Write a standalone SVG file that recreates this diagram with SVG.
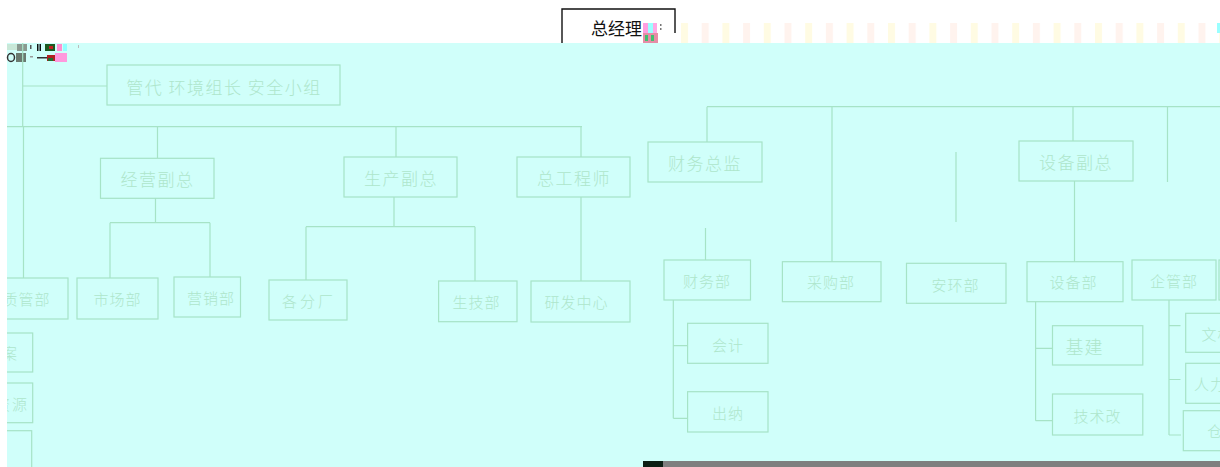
<svg xmlns="http://www.w3.org/2000/svg" width="1220" height="467" viewBox="0 0 1220 467">
<defs>
<style>
.bx{fill:none;stroke:#a6e3c6;stroke-width:1.2}
.ln{fill:none;stroke:#a6e3c6;stroke-width:1.2}
.t{font-family:"Noto Sans CJK SC","Noto Sans",sans-serif;font-weight:300;fill:#aee6cb;font-size:15px;letter-spacing:1px;text-anchor:middle;dominant-baseline:central}
.tl{font-size:17px;letter-spacing:1.5px}
.ts{text-anchor:start}
</style>
<clipPath id="panel"><rect x="7" y="43" width="1213" height="424"/></clipPath>
<pattern id="stripes" x="681" y="0" width="41.4" height="467" patternUnits="userSpaceOnUse">
<rect x="0" y="0" width="7" height="467" fill="#fffbe3"/>
<rect x="20.7" y="0" width="7" height="467" fill="#fff3ee"/>
</pattern>
</defs>
<rect width="1220" height="467" fill="#ffffff"/>
<g id="gm">
<path d="M562 43 V9 H675 V33" fill="none" stroke="#111" stroke-width="1.4"/>
<text x="591" y="27" font-family="Noto Sans CJK SC, sans-serif" font-size="17" fill="#111" dominant-baseline="central">总经理</text>
</g>
<rect x="681" y="23" width="539" height="20" fill="url(#stripes)"/>
<g id="glitch-top">
<rect x="643" y="23" width="5" height="10" fill="#ff9ee0"/>
<rect x="648" y="23" width="5" height="10" fill="#9affff"/>
<rect x="653" y="23" width="4" height="10" fill="#ffa8e4"/>
<rect x="643" y="33" width="15" height="10" fill="#e07090" opacity="0.8"/>
<rect x="645" y="35" width="3" height="6" fill="#40c070"/>
<rect x="651" y="35" width="3" height="6" fill="#40c070"/>
<rect x="660" y="24" width="1.5" height="2" fill="#777"/>
<rect x="660" y="28" width="1.5" height="2" fill="#777"/>
<rect x="1217" y="23" width="3" height="10" fill="#9affff"/>
</g>
<rect x="7" y="43" width="1213" height="424" fill="#d0fffa"/>
<g id="glitch-left">
<rect x="7" y="44" width="10" height="6" fill="#c8e8d8"/>
<rect x="17" y="44" width="10" height="7" fill="#8a9a90"/>
<rect x="30" y="45" width="1.5" height="4" fill="#555"/>
<rect x="37" y="44" width="1.5" height="7" fill="#111"/>
<rect x="39.5" y="44" width="1.5" height="7" fill="#111"/>
<rect x="45" y="44" width="10" height="7" fill="#1a5a20"/>
<rect x="49" y="46" width="4" height="3" fill="#c02020"/>
<rect x="57" y="44" width="5" height="7" fill="#ff90d0"/>
<rect x="63" y="44" width="4" height="7" fill="#90ffff"/>
<rect x="78" y="45" width="1" height="3" fill="#bbb"/>
<ellipse cx="11" cy="57.5" rx="3.5" ry="4" fill="none" stroke="#333" stroke-width="1.5"/>
<rect x="16" y="53" width="10" height="9" fill="#6a7a70"/>
<rect x="30" y="56" width="3" height="1.5" fill="#999"/>
<rect x="37" y="57" width="10" height="1.5" fill="#333"/>
<rect x="47" y="55" width="8" height="6" fill="#b02020"/>
<rect x="48" y="58" width="5" height="3" fill="#207030"/>
<rect x="55" y="53" width="12" height="9" fill="#ff99dd"/>
</g>
<g clip-path="url(#panel)">
<g id="connectors" class="ln">
<path d="M22.7 43 V126.7 M22.7 86 H107"/>
<path d="M7 126.7 H582"/>
<path d="M23.5 126.7 V278 M157.5 126.7 V158 M396 126.7 V157 M581 126.7 V157"/>
<path d="M155.5 198 V222.7 M110 222.7 H210 M110 222.7 V278 M210 222.7 V277"/>
<path d="M394 197 V226.7 M306 226.7 H475 M306 226.7 V280 M475 226.7 V281"/>
<path d="M581 197 V281"/>
<path d="M707 106.7 H1220 M707 106.7 V142 M832 106.7 V261.7 M1073 106.7 V141 M1167.5 106.7 V182"/>
<path d="M956 152 V222"/>
<path d="M705.5 228 V260"/>
<path d="M1074.5 181 V261.7"/>
<path d="M673.3 300 V418.3 M673.3 345.7 H687.6 M673.3 418.3 H687.6"/>
<path d="M1035.6 301.7 V420.7 M1035.6 348.3 H1052.5 M1035.6 420.7 H1052.5"/>
<path d="M1169 300 V435 M1169 325.7 H1180.5 M1169 379.5 H1180.5 M1169 435 H1181"/>
</g>
<g id="n-guandai"><rect class="bx" x="107" y="65" width="233" height="40"/><text class="t tl" x="224" y="86">管代 环境组长 安全小组</text></g>
<g id="n-jingying"><rect class="bx" x="100.5" y="158.3" width="113.5" height="40"/><text class="t tl" x="157.5" y="178.3">经营副总</text></g>
<g id="n-shengchan"><rect class="bx" x="344" y="157" width="113" height="40"/><text class="t tl" x="401" y="177">生产副总</text></g>
<g id="n-zonggong"><rect class="bx" x="517" y="157" width="113" height="40"/><text class="t tl" x="574" y="177">总工程师</text></g>
<g id="n-caiwuzj"><rect class="bx" x="648" y="142" width="114" height="40"/><text class="t tl" x="705" y="162">财务总监</text></g>
<g id="n-shebeifz"><rect class="bx" x="1019" y="141" width="114" height="40"/><text class="t tl" x="1076" y="161">设备副总</text></g>
<g id="n-zhiguan"><rect class="bx" x="-15" y="278" width="83" height="41"/><text class="t" x="26.5" y="298.5">质管部</text></g>
<g id="n-shichang"><rect class="bx" x="77" y="278" width="81" height="41"/><text class="t" x="117.5" y="298.5">市场部</text></g>
<g id="n-yingxiao"><rect class="bx" x="174" y="277" width="66.5" height="40"/><text class="t" x="211" y="297">营销部</text></g>
<g id="n-gefenchang"><rect class="bx" x="269" y="280" width="78" height="40"/><text class="t" x="309" y="300" style="letter-spacing:3px">各分厂</text></g>
<g id="n-shengji"><rect class="bx" x="438.6" y="281" width="78.4" height="40.7"/><text class="t" x="476.5" y="301.3">生技部</text></g>
<g id="n-yanfa"><rect class="bx" x="531" y="281" width="99" height="41"/><text class="t" x="576.5" y="301.5">研发中心</text></g>
<g id="n-caiwubu"><rect class="bx" x="664" y="260" width="86.5" height="40"/><text class="t" x="707" y="280">财务部</text></g>
<g id="n-caigou"><rect class="bx" x="782.4" y="261.7" width="98.6" height="40"/><text class="t" x="831" y="281.7">采购部</text></g>
<g id="n-anhuan"><rect class="bx" x="906.5" y="263.3" width="99.5" height="40"/><text class="t" x="955.5" y="284">安环部</text></g>
<g id="n-shebeibu"><rect class="bx" x="1027" y="261.7" width="96" height="40"/><text class="t" x="1073.5" y="281.7">设备部</text></g>
<g id="n-qiguan"><rect class="bx" x="1132" y="260" width="84" height="40"/><text class="t" x="1174" y="280">企管部</text></g>
<g id="n-edge"><rect class="bx" x="1219" y="260" width="80" height="40"/></g>
<g id="n-kuaiji"><rect class="bx" x="687.6" y="323.3" width="80.4" height="40"/><text class="t" x="728" y="344">会计</text></g>
<g id="n-chuna"><rect class="bx" x="687.6" y="391.7" width="80.4" height="40.3"/><text class="t" x="728" y="412.5">出纳</text></g>
<g id="n-jijian"><rect class="bx" x="1052.5" y="325.7" width="90.3" height="39.3"/><text class="t" x="1084.5" y="345.5" style="font-size:18px">基建</text></g>
<g id="n-jishugai"><rect class="bx" x="1052.5" y="394" width="90.3" height="41"/><text class="t" x="1097.5" y="415">技术改</text></g>
<g id="n-wendang"><rect class="bx" x="1185.7" y="313.3" width="80" height="39"/><text class="t ts" x="1201.5" y="333">文档</text></g>
<g id="n-renli-r"><rect class="bx" x="1185.7" y="363.3" width="80" height="40"/><text class="t ts" x="1194" y="383.3">人力资源</text></g>
<g id="n-cangku"><rect class="bx" x="1183.3" y="410.7" width="80" height="40"/><text class="t ts" x="1207.3" y="430.7">仓库</text></g>
<g id="n-dangan"><rect class="bx" x="-30" y="333" width="62.7" height="39"/><text class="t ts" x="-14" y="352.5">档案</text></g>
<g id="n-renli-l"><rect class="bx" x="-45" y="383" width="77.7" height="39.7"/><text class="t ts" x="-39" y="403" style="letter-spacing:2px">人力资源</text></g>
<g id="n-left3"><rect class="bx" x="-30" y="430.7" width="61.7" height="50"/></g>
</g>
<rect x="643" y="461" width="577" height="6" fill="#7f7f7f"/>
<rect x="643" y="461" width="20" height="6" fill="#0b1f14"/>
</svg>
